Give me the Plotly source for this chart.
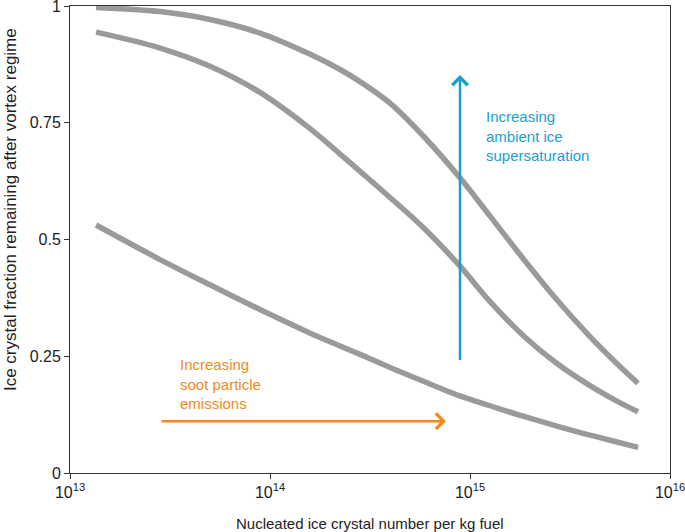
import plotly.graph_objects as go

# nucleated ice crystal number per kg fuel (shared grid for all three curves)
crystal_number = [1.35e13, 2.82e13, 5.01e13, 8.91e13, 1.58e14, 2.24e14, 2.82e14, 3.98e14,
                  5.89e14, 8.91e14, 1.26e15, 1.86e15, 2.69e15, 3.98e15, 5.37e15, 6.92e15]

# ice crystal fraction remaining after vortex regime
frac_high_ssi = [0.997, 0.988, 0.971, 0.942, 0.897, 0.864, 0.838, 0.792,
                 0.720, 0.632, 0.550, 0.457, 0.373, 0.292, 0.236, 0.192]
frac_mid_ssi = [0.944, 0.910, 0.871, 0.815, 0.738, 0.683, 0.646, 0.590,
                0.524, 0.443, 0.367, 0.293, 0.236, 0.187, 0.155, 0.131]
frac_low_ssi = [0.531, 0.457, 0.403, 0.350, 0.300, 0.272, 0.254, 0.226,
                0.196, 0.165, 0.144, 0.121, 0.101, 0.081, 0.067, 0.055]

x_tickvals = [1e13, 1e14, 1e15, 1e16]
x_ticktext = ["10<sup>13</sup>", "10<sup>14</sup>", "10<sup>15</sup>", "10<sup>16</sup>"]
y_tickvals = [0, 0.25, 0.5, 0.75, 1]
y_ticktext = ["0", "0.25", "0.5", "0.75", "1"]

# arrows: (x start, y start) -> (x end, y end), x given as log10
ssi_arrow = [14.95, 0.239, 14.95, 0.852]
soot_arrow = [13.45, 0.111, 14.88, 0.111]

ssi_text = "Increasing<br>ambient ice<br>supersaturation"
soot_text = "Increasing<br>soot particle<br>emissions"
x_title = "Nucleated ice crystal number per kg fuel"
y_title = "Ice crystal fraction remaining after vortex regime"

GREY = "#9a9a9a"
BLUE = "#1aa0cf"
ORANGE = "#ee8a1e"
TEXT = "#222222"

fig = go.Figure()
for ys in [frac_high_ssi, frac_mid_ssi, frac_low_ssi]:
    fig.add_trace(go.Scatter(
        x=crystal_number, y=ys, mode="lines",
        line=dict(color=GREY, width=5.5, shape="spline", smoothing=1.0),
        showlegend=False, hoverinfo="skip"
    ))

for arr, col in [(ssi_arrow, BLUE), (soot_arrow, ORANGE)]:
    fig.add_annotation(
        x=arr[2], y=arr[3], ax=arr[0], ay=arr[1],
        xref="x", yref="y", axref="x", ayref="y",
        text="", showarrow=True, arrowhead=4, arrowsize=1.2,
        arrowwidth=2.5, arrowcolor=col
    )

fig.add_annotation(x=15.07, y=0.785, xref="x", yref="y", text=ssi_text,
                   showarrow=False, xanchor="left", yanchor="top", align="left",
                   font=dict(color=BLUE, size=15))
fig.add_annotation(x=13.54, y=0.255, xref="x", yref="y", text=soot_text,
                   showarrow=False, xanchor="left", yanchor="top", align="left",
                   font=dict(color=ORANGE, size=15))

# axis titles as annotations so the y title can sit where the original has it
fig.add_annotation(x=0.5, y=0, xref="paper", yref="paper", yshift=-40,
                   text=x_title, showarrow=False, xanchor="center", yanchor="top",
                   font=dict(size=15, color=TEXT))
fig.add_annotation(x=0, y=0.563, xref="paper", yref="paper", xshift=-60,
                   text=y_title, textangle=-90, showarrow=False,
                   xanchor="center", yanchor="middle",
                   font=dict(size=17, color=TEXT))

axis_common = dict(showgrid=False, zeroline=False, showline=True, linecolor="#333333",
                   linewidth=1, mirror=True, ticks="outside", ticklen=5,
                   tickcolor="#333333", tickfont=dict(size=16, color=TEXT),
                   automargin=False, ticklabeloverflow="allow")

fig.update_xaxes(type="log", range=[13, 16], tickvals=x_tickvals, ticktext=x_ticktext,
                 **axis_common)
fig.update_yaxes(range=[0, 1], tickvals=y_tickvals, ticktext=y_ticktext,
                 **axis_common)

fig.update_layout(
    width=685, height=532,
    margin=dict(l=70, r=15, t=6, b=59),
    paper_bgcolor="white", plot_bgcolor="white",
    font=dict(family="Liberation Sans, Arial, sans-serif"),
)

# drop the browser's default body margin so the figure sits at the page corner
fig.write_html("out.html", config={"displayModeBar": False},
               post_script="document.body.style.margin='0';")
